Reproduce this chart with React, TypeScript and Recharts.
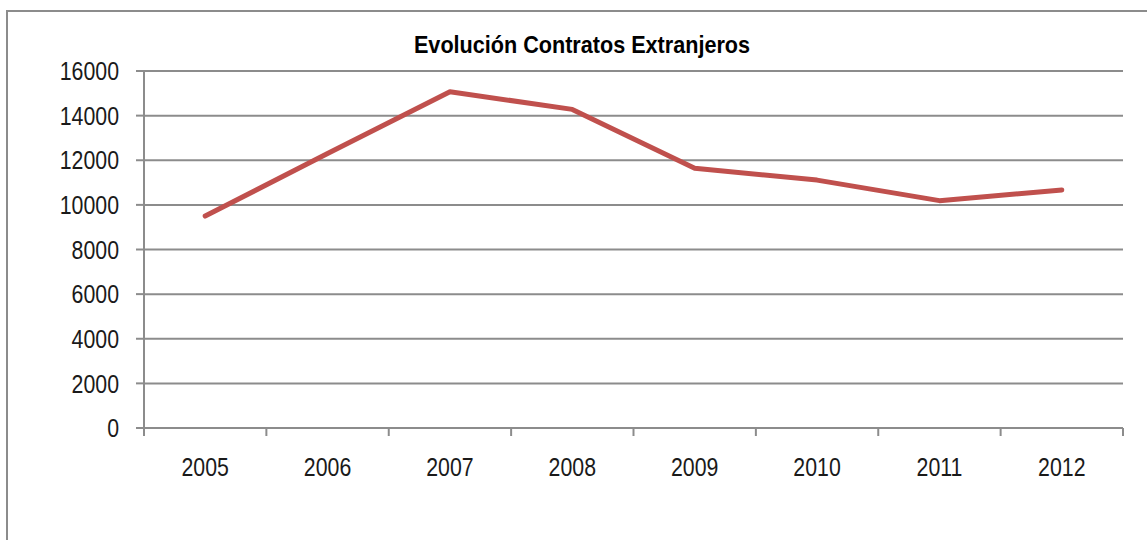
import { CartesianGrid, Line, LineChart, XAxis, YAxis } from 'recharts';

const YEARS = ['2005', '2006', '2007', '2008', '2009', '2010', '2011', '2012'];
const CONTRACTS = [9500, 12300, 15070, 14280, 11640, 11110, 10190, 10670];
const Y_TICKS = [0, 2000, 4000, 6000, 8000, 10000, 12000, 14000, 16000];

const FONT = '"Liberation Sans Narrow", "Arial Narrow", "Liberation Sans", sans-serif';
const GRID = '#8c8c8c';
const TEXT = '#1a1a1a';
// no narrow font installed, so squeeze the regular one
const NARROW = 0.82;

const data = YEARS.map((year, i) => ({ year, value: CONTRACTS[i] }));

// category ticks sit between the years, like the Excel original
function YearTick(props: any) {
  const { x, y, payload, index, visibleTicksCount, width } = props;
  const half = width / visibleTicksCount / 2;
  return (
    <g>
      <line x1={x - half} x2={x - half} y1={y} y2={y + 8} stroke={GRID} strokeWidth={2} />
      {index === visibleTicksCount - 1 && (
        <line x1={x + half} x2={x + half} y1={y} y2={y + 8} stroke={GRID} strokeWidth={2} />
      )}
      <text
        transform={`translate(${x},${y + 30}) scale(${NARROW},1)`}
        dy="0.71em"
        textAnchor="middle"
        fill={TEXT}
        fontSize={26}
        fontFamily={FONT}
      >
        {payload.value}
      </text>
    </g>
  );
}

function ValueTick(props: any) {
  const { x, y, payload } = props;
  return (
    <text
      transform={`translate(${x},${y}) scale(${NARROW},1)`}
      dy="0.355em"
      textAnchor="end"
      fill={TEXT}
      fontSize={26}
      fontFamily={FONT}
    >
      {payload.value}
    </text>
  );
}

export default function App() {
  return (
    <div style={{ position: 'absolute', left: 0, top: 0, width: 1147, height: 540, overflow: 'hidden', background: '#fff' }}>
      <div
        style={{
          position: 'absolute',
          left: 6,
          top: 10,
          width: 1160,
          height: 560,
          borderLeft: `2px solid ${GRID}`,
          borderTop: `2px solid ${GRID}`
        }}
      />
      <div
        style={{
          position: 'absolute',
          left: 332,
          top: 33,
          width: 500,
          textAlign: 'center',
          fontFamily: FONT,
          fontWeight: 'bold',
          fontSize: 24,
          lineHeight: '24px',
          color: '#000',
          transform: 'scaleX(0.9)',
          transformOrigin: '50% 50%'
        }}
      >
        Evolución Contratos Extranjeros
      </div>
      <div style={{ position: 'absolute', left: 0, top: 0 }}>
        <LineChart width={1147} height={540} data={data} margin={{ top: 71, right: 24, left: 64, bottom: 52 }}>
          <CartesianGrid vertical={false} stroke={GRID} strokeWidth={2} />
          <XAxis
            dataKey="year"
            scale="band"
            height={60}
            axisLine={{ stroke: GRID, strokeWidth: 2 }}
            tickLine={false}
            tickSize={0}
            tickMargin={0}
            interval={0}
            tick={<YearTick />}
          />
          <YAxis
            width={80}
            domain={[0, 16000]}
            ticks={Y_TICKS}
            interval={0}
            axisLine={{ stroke: GRID, strokeWidth: 2 }}
            tickLine={{ stroke: GRID, strokeWidth: 2 }}
            tickSize={8}
            tickMargin={17}
            tick={<ValueTick />}
          />
          <Line
            type="linear"
            dataKey="value"
            stroke="#C0504D"
            strokeWidth={5}
            strokeLinecap="round"
            strokeLinejoin="round"
            dot={false}
            activeDot={false}
            isAnimationActive={false}
          />
        </LineChart>
      </div>
    </div>
  );
}
